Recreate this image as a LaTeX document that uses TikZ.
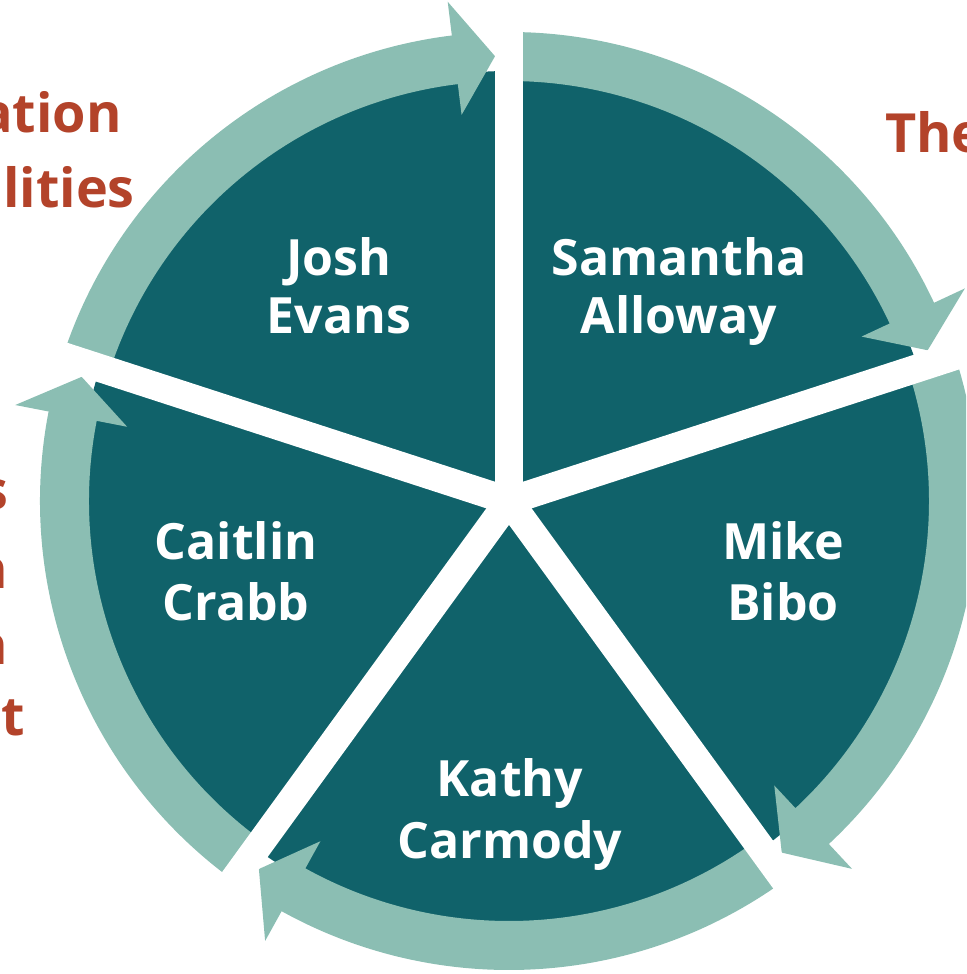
\documentclass[tikz,border=0pt]{standalone}
\usepackage{fontspec}
\setmainfont{Open Sans}
\newfontfamily\redfont{Open Sans}
\definecolor{darkteal}{HTML}{10626A}
\definecolor{lightteal}{HTML}{8BBEB3}
\definecolor{rust}{HTML}{B3432A}
\begin{document}
\begin{tikzpicture}[x=1pt,y=1pt]
\tikzset{
 namelbl/.style={text=white, font=\fontsize{50}{60}\selectfont\bfseries, anchor=base, inner sep=0pt},
 sidelbl/.style={text=rust, font=\redfont\fontsize{54}{64}\selectfont\bfseries, inner sep=0pt},
 arrowband/.style={fill=lightteal},
 gapbar/.style={draw=white, line width=28pt},
 disc/.style={fill=darkteal}
}
\useasboundingbox (-509,-473) rectangle (457,501);
\clip (-509,-473) rectangle (457,501);
\coordinate (c) at (0,0);
\fill[disc] (c) circle (430);
% curved arrows, clockwise
\foreach \S/\E in {162/90, 90/18, 18/-54, -54/-126, 234/162} {
  \pgfmathsetmacro\B{\E+7}
  \pgfmathsetmacro\T{\E+1.8}
  \fill[arrowband] (\S:469) arc[start angle=\S, end angle=\B, radius=469]
     -- (\B:503) -- (\T:445) -- (\B:389) -- (\B:420)
     arc[start angle=\B, end angle=\S, radius=420] -- cycle;
}
% white gaps between the sectors
\foreach \a in {90,18,-54,-126,162} {
  \coordinate (g\a) at (\a:480);
  \draw[gapbar] (c) -- (g\a);
}
% names
\node[namelbl] (josh1) at (-170,225) {Josh};
\node[namelbl] (josh2) at (-170,167) {Evans};
\node[namelbl] (sam1) at (170,225) {Samantha};
\node[namelbl] (sam2) at (170,167) {Alloway};
\node[namelbl] (cait1) at (-273,-59) {Caitlin};
\node[namelbl] (cait2) at (-273,-119) {Crabb};
\node[namelbl] (mike1) at (274,-59) {Mike};
\node[namelbl] (mike2) at (274,-119) {Bibo};
\node[namelbl] (kathy1) at (1,-295) {Kathy};
\node[namelbl] (kathy2) at (1,-357) {Carmody};
% side texts (cut by the picture edge)
\node[sidelbl, anchor=base east] (r1) at (-387,368) {ation};
\node[sidelbl, anchor=base east] (r2) at (-374,293) {lities};
\node[sidelbl, anchor=base west] (r3) at (376,348) {The};
\node[sidelbl, anchor=base east] (r4) at (-500,-9) {s};
\node[sidelbl, anchor=base east] (r5) at (-501,-87) {n};
\node[sidelbl, anchor=base east] (r6) at (-501,-163) {n};
\node[sidelbl, anchor=base east] (r7) at (-484,-234) {nt};
\end{tikzpicture}
\end{document}
